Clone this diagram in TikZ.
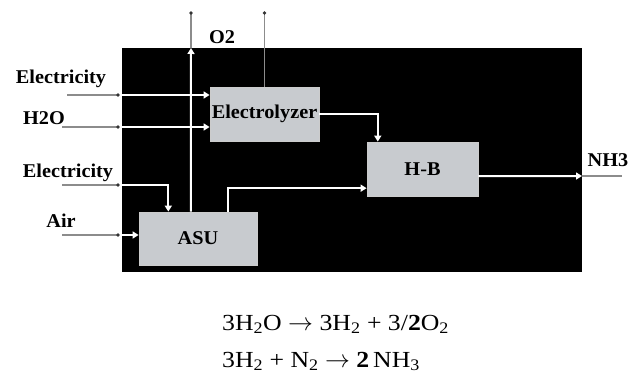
\documentclass[tikz,border=0pt]{standalone}
\usepackage{fontspec}
\setmainfont{Liberation Serif}[FakeStretch=1.04]
\newfontfamily\eqfont{Liberation Serif}[FakeStretch=1.12]
\usetikzlibrary{arrows.meta, positioning, calc}
\definecolor{boxgray}{RGB}{200,203,207}
\definecolor{linegray}{RGB}{140,140,140}

\begin{document}
\begin{tikzpicture}[
    x=1pt, y=-1pt,
    blackbg/.style={rectangle, fill=black, inner sep=0pt},
    unit/.style={rectangle, draw=white!80!black, fill=boxgray, line width=0.8pt,
                 inner sep=0pt, font=\fontsize{19.5}{21}\selectfont\bfseries},
    stream/.style={font=\fontsize{19.5}{21}\selectfont\bfseries, inner sep=0pt},
    flow/.style={draw=white, line width=2pt,
                 -{Triangle[length=6pt, width=7pt, fill=white]}},
    feed/.style={draw=linegray, line width=1.2pt},
    eqn/.style={font=\eqfont\fontsize{23}{25}\selectfont, anchor=base west, inner sep=0pt},
]
\fill[white] (0,0) rectangle (629,385);
\useasboundingbox (0,0) rectangle (629,385);

% Black process area
\node[blackbg, minimum width=460pt, minimum height=224pt] (area) at (352,160) {};

% --- Units ---
\node[unit, minimum width=109pt, minimum height=54pt] (elec) at (264.5,114) {Electrolyzer};
\node[unit, minimum width=111pt, minimum height=54pt] (hb) at (422.5,169) {H-B};
\node[unit, minimum width=118pt, minimum height=53pt] (asu) at (198,238.5) {ASU};

% --- Free ends ---
\coordinate (e1s) at (67,95);   \coordinate (e1in) at (118,95);
\coordinate (ws) at (62,127);   \coordinate (win) at (118,127);
\coordinate (e2s) at (62,185);  \coordinate (e2in) at (118,185);
\coordinate (as) at (62,235);   \coordinate (ain) at (118,235);
\coordinate (o2a) at (191,48);  \coordinate (o2atop) at (191,13);
\coordinate (o2btop) at (264.5,13);
\coordinate (nh3in) at (582,176); \coordinate (nh3end) at (622,176);

% --- Stream labels ---
\node[stream] (lelec1) at (61,79) {Electricity};
\node[stream] (lwater) at (44,118) {H2O};
\node[stream] (lelec2) at (68,173) {Electricity};
\node[stream] (lair) at (61,221) {Air};
\node[stream] (lo2) at (222,37) {O2};
\node[stream] (lh2) at (351,99) {H2};
\node[stream] (ln2) at (308,212) {N2};
\node[stream] (lnh3) at (608,160) {NH3};

% --- Inputs ---
\draw[feed] (e1s) -- (e1in);
\draw[flow] (e1in) -- (elec.west |- e1in);
\draw[feed] (ws) -- (win);
\draw[flow] (win) -- (elec.west |- win);
\draw[feed] (e2s) -- (e2in);
\draw[flow] (e2in) -| ($(asu.north west)!0.25!(asu.north east)$);
\draw[feed] (as) -- (ain);
\draw[flow] (ain) -- (asu.west |- ain);

% --- Oxygen out ---
\draw[flow] ($(asu.north west)!0.44!(asu.north east)$) -- (o2a);
\draw[feed] (o2a) -- (o2atop);
\draw[feed] (elec.north) -- (o2btop);

% --- H2 and N2 to H-B ---
\draw[flow] (elec.east) -| ($(hb.north west)!0.1!(hb.north east)$);
\draw[flow] ($(asu.north west)!0.75!(asu.north east)$) |- ($(hb.south west)!0.15!(hb.north west)$);

% --- Product ---
\draw[flow] ($(hb.south east)!0.37!(hb.north east)$) -- (nh3in);
\draw[feed] (nh3in) -- (nh3end);

% End dots
\foreach \p in {e1in, win, e2in, ain, o2atop, o2btop}
    \fill[black!80] (\p) circle (1.8);

% --- Reactions ---
\node[eqn] (eq1) at (222,330) {3H\textsubscript{2}O $\rightarrow$ 3H\textsubscript{2} + 3/\textbf{2}O\textsubscript{2}};
\node[eqn] (eq2) at (222,367) {3H\textsubscript{2} + N\textsubscript{2} $\rightarrow$ \textbf{2}\,NH\textsubscript{3}};

\end{tikzpicture}
\end{document}
